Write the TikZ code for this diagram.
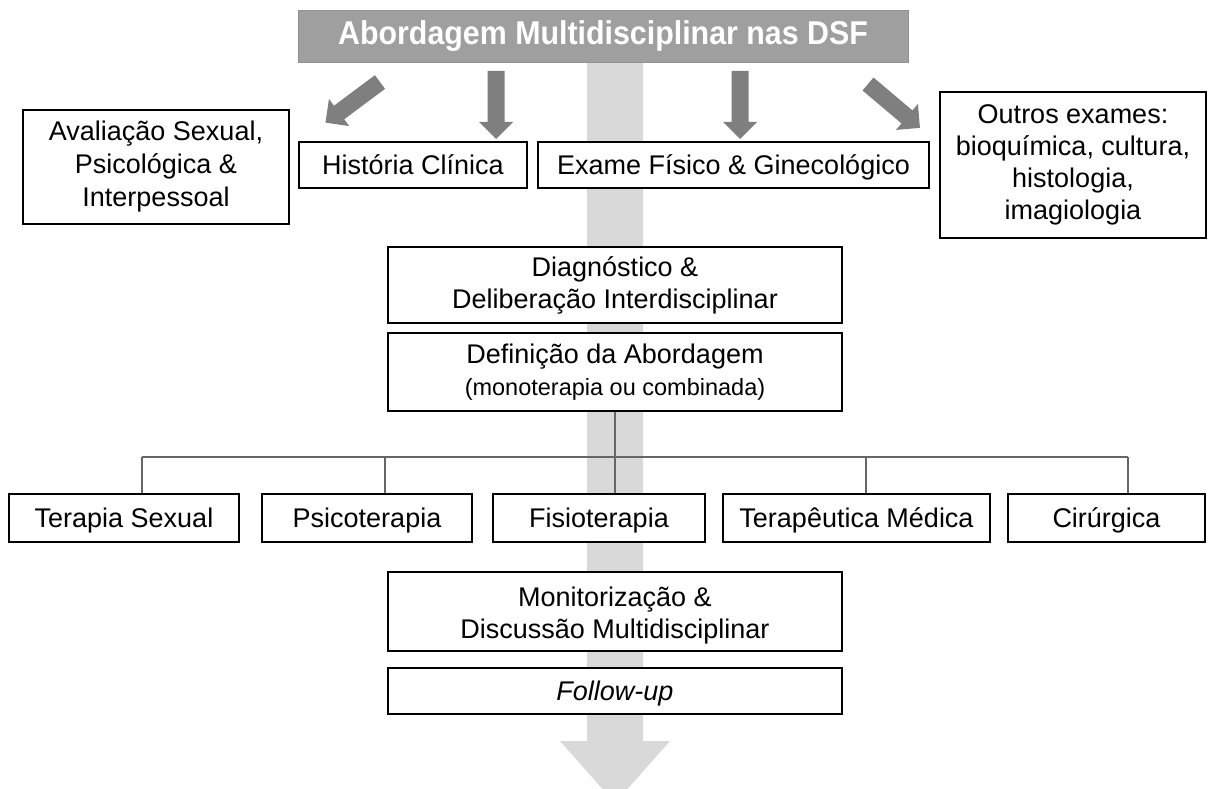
\documentclass[tikz,border=0pt]{standalone}
\usepackage{fontspec}
\setmainfont{Liberation Sans}
\usetikzlibrary{calc}
\definecolor{arrgray}{HTML}{7F7F7F}
\definecolor{lightarr}{HTML}{D9D9D9}
\definecolor{bannergray}{HTML}{9F9F9F}
\definecolor{treegray}{HTML}{666666}
\tikzset{
  box/.style={draw=black, line width=1.3pt, fill=white, align=center, inner sep=0pt,
    font=\fontsize{27}{32}\selectfont},
  onebox/.style={box, text depth=0pt},
  treeline/.style={draw=treegray, line width=2pt},
  pics/blockarrow/.style={code={
    \fill[arrgray] (-8.5,0) -- (-8.5,51) -- (-17,51) -- (0,68) -- (17,51) -- (8.5,51) -- (8.5,0) -- cycle;}}
}
\begin{document}
\begin{tikzpicture}[x=1pt,y=-1pt]
\path[use as bounding box] (0,0) rectangle (1215,789);
\begin{scope}
\clip (0,0) rectangle (1215,789);
\fill[lightarr] (587,62) -- (587,741) -- (560,741) -- (615,803) -- (670,741) -- (643,741) -- (643,62) -- cycle;
\end{scope}
% banner
\node[fill=bannergray, draw=bannergray!92!black, line width=0.8pt, minimum width=610pt, minimum height=52pt, inner sep=0pt,
  text=white, font=\fontsize{33}{36}\selectfont\bfseries] (title) at (603,36) {\scalebox{0.92}[1]{Abordagem Multidisciplinar nas DSF}};
% block arrows
\coordinate (a1) at (380,82);
\coordinate (a2) at (496,71);
\coordinate (a3) at (740,71);
\coordinate (a4) at (868,84);
\pic[rotate=-53.3] at (a1) {blockarrow};
\pic at (a2) {blockarrow};
\pic at (a3) {blockarrow};
\pic[rotate=49.8] at (a4) {blockarrow};
% top row
\node[box, minimum width=266pt, minimum height=114pt, font=\fontsize{27}{33}\selectfont] (aval) at (156,167) {Avaliação Sexual,\\Psicológica \&\\Interpessoal};
\node[onebox, minimum width=228pt, minimum height=46pt] (hist) at (413,165) {História Clínica};
\node[onebox, minimum width=391pt, minimum height=46pt] (exam) at (733.5,165) {Exame Físico \& Ginecológico};
\node[box, minimum width=266pt, minimum height=146pt, font=\fontsize{27}{32}\selectfont] (outros) at (1073,165) {Outros exames:\\bioquímica, cultura,\\histologia,\\imagiologia};
% middle
\node[box, minimum width=454pt, minimum height=76pt, font=\fontsize{27}{32}\selectfont] (diag) at (615,285) {Diagnóstico \&\\Deliberação Interdisciplinar};
\node[box, minimum width=454pt, minimum height=78pt, font=\fontsize{27}{32}\selectfont] (def) at (615,372) {Definição da Abordagem\\{\fontsize{23.5}{36}\selectfont (monoterapia ou combinada)}};
% therapies
\node[onebox, minimum width=230pt, minimum height=48pt] (ts) at (124,518) {Terapia Sexual};
\node[onebox, minimum width=210pt, minimum height=48pt] (psi) at (367,518) {Psicoterapia};
\node[onebox, minimum width=212pt, minimum height=48pt] (fis) at (599,518) {Fisioterapia};
\node[onebox, minimum width=267pt, minimum height=48pt] (ter) at (856.5,518) {Terapêutica Médica};
\node[onebox, minimum width=197pt, minimum height=48pt] (cir) at (1106.5,518) {Cirúrgica};
% tree
\coordinate (hub) at (615,457);
\coordinate (d1) at (142,457);
\coordinate (d2) at (385,457);
\coordinate (d3) at (615,457);
\coordinate (d4) at (866,457);
\coordinate (d5) at (1128,457);
\draw[treeline] (def.south) -- (hub);
\draw[treeline] (d1) -- (d5);
\draw[treeline] (d1) -- (d1 |- ts.north);
\draw[treeline] (d2) -- (d2 |- psi.north);
\draw[treeline] (d3) -- (d3 |- fis.north);
\draw[treeline] (d4) -- (d4 |- ter.north);
\draw[treeline] (d5) -- (d5 |- cir.north);
% bottom
\node[box, minimum width=454pt, minimum height=79pt] (mon) at (615,611.5) {\rule{0pt}{27pt}Monitorização \&\\Discussão Multidisciplinar};
\node[onebox, minimum width=454pt, minimum height=46pt] (fol) at (615,691) {\itshape Follow-up};
\end{tikzpicture}
\end{document}
